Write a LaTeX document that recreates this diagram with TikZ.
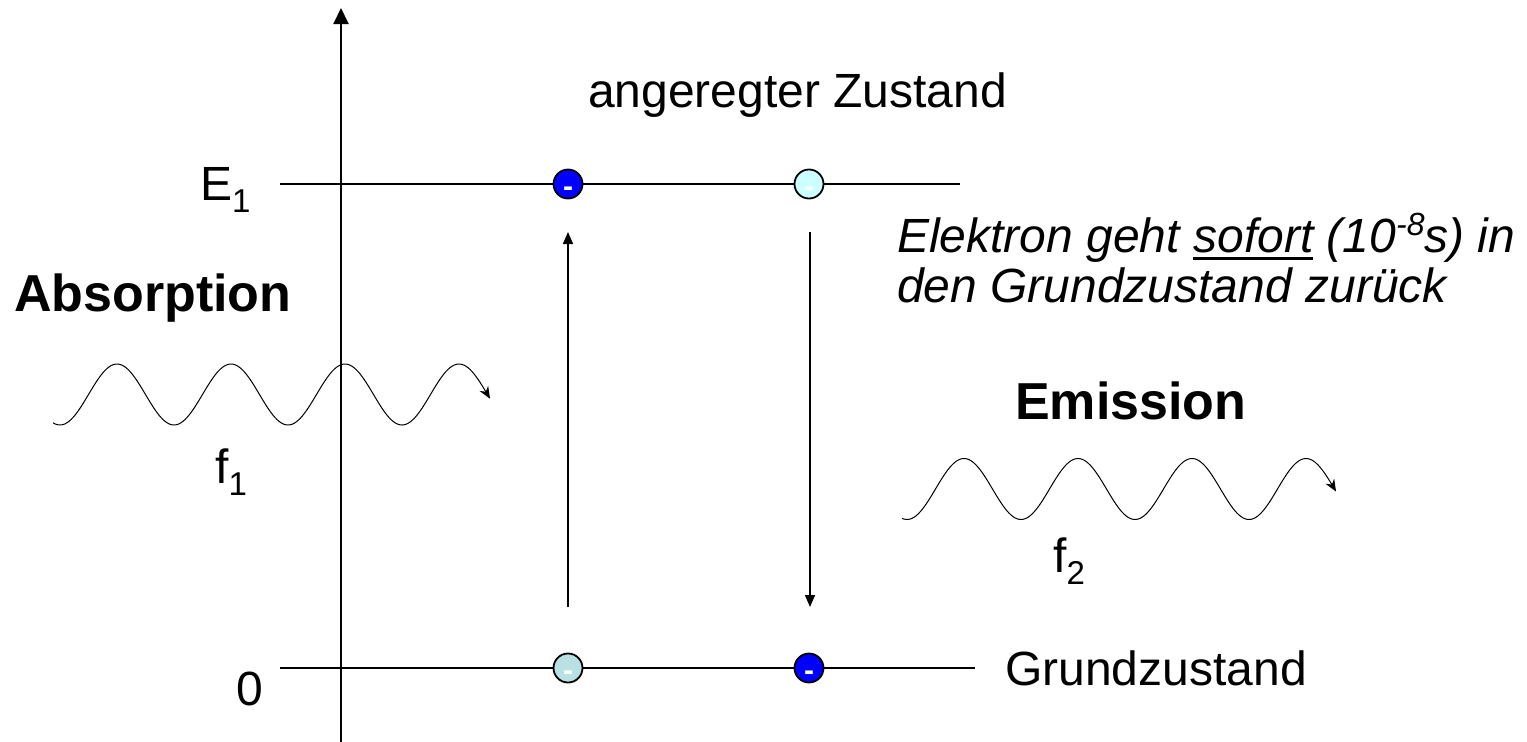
\documentclass[tikz,border=0pt]{standalone}
\usepackage{fontspec}
\setmainfont{Liberation Sans}
\usetikzlibrary{arrows.meta}
\newcommand\myul[1]{\setbox0\hbox{#1}\rlap{\rule[-8pt]{\wd0}{3pt}}\box0\relax}
\newcommand\subs[1]{\raisebox{-12pt}{\fontsize{33}{33}\selectfont #1}}
\newcommand\sups[1]{\raisebox{17pt}{\fontsize{32}{32}\selectfont #1}}
\definecolor{elblue}{RGB}{0,0,255}
\definecolor{excyan}{RGB}{204,255,255}
\definecolor{gdcyan}{RGB}{185,224,227}
\begin{document}
\begin{tikzpicture}[x=1pt,y=-1pt,
  lbl/.style={inner sep=0pt, anchor=base west, font=\fontsize{48}{56}\selectfont},
  boldlbl/.style={inner sep=0pt, anchor=base west, font=\fontsize{52}{60}\selectfont\bfseries},
  itlbl/.style={inner sep=0pt, anchor=base west, align=left, font=\fontsize{48}{50}\selectfont\itshape},
  level/.style={line width=1.6pt},
  axis/.style={line width=2pt, -{Triangle[length=16pt,width=15pt]}},
  trans/.style={line width=1.5pt, -{Triangle[length=12pt,width=10pt]}},
  wave/.style={line width=1pt, -{Stealth[length=12pt,width=10pt]}},
  electron/.style={circle, draw, line width=1.8pt, minimum size=29pt, inner sep=0pt},
  minus/.style={inner sep=0pt, anchor=base, text=white, font=\fontsize{30}{30}\selectfont\bfseries}
]
\useasboundingbox (0,0) rectangle (1527,742);
\fill[white] (0,0) rectangle (1527,742);

% axis
\coordinate (axb) at (341,742);
\coordinate (axt) at (341,8);
\draw[axis] (axb) -- (axt);

% levels
\coordinate (l1a) at (280,184);
\coordinate (l1b) at (960,184);
\coordinate (l0a) at (280,668);
\coordinate (l0b) at (975,668);
\draw[level] (l1a) -- (l1b);
\draw[level] (l0a) -- (l0b);

% electrons
\node[electron, fill=elblue] (eu1) at (568,184) {};
\node[electron, fill=excyan] (eu2) at (809,184) {};
\node[electron, fill=gdcyan] (ed1) at (568,668) {};
\node[electron, fill=elblue] (ed2) at (809,668) {};
\node[minus] (mu1) at (568,196) {-};
\node[minus] (mu2) at (809,196) {-};
\node[minus] (md1) at (568,680) {-};
\node[minus] (md2) at (809,680) {-};

% transitions
\coordinate (ua) at (568,607);
\coordinate (ub) at (568,232);
\coordinate (da) at (810,232);
\coordinate (db) at (810,607);
\draw[trans] (ua) -- (ub);
\draw[trans] (da) -- (db);

% waves
\draw[wave] plot[domain=53:490, samples=220, smooth] (\x, {394.5-30.5*cos(3.157895*(\x-117))});
\draw[wave] plot[domain=902:1336, samples=220, smooth] (\x, {489-30.5*cos(3.157895*(\x-964))});

% labels
\node[lbl] (tE1) at (200,200) {E\subs{1}};
\node[lbl] (t0) at (236,705) {0};
\node[lbl] (tf1) at (215,483) {f\subs{1}};
\node[lbl] (tf2) at (1053,572) {f\subs{2}};
\node[lbl] (tang) at (588,107) {angeregter Zustand};
\node[lbl] (tgrund) at (1005,685) {Grundzustand};
\node[boldlbl] (tabs) at (14,311) {Absorption};
\node[boldlbl] (tem) at (1015,419) {Emission};
\node[itlbl] (tel) at (897,302) {Elektron geht \myul{sofort} (10\sups{-8}s) in\\den Grundzustand zurück};
\end{tikzpicture}
\end{document}
